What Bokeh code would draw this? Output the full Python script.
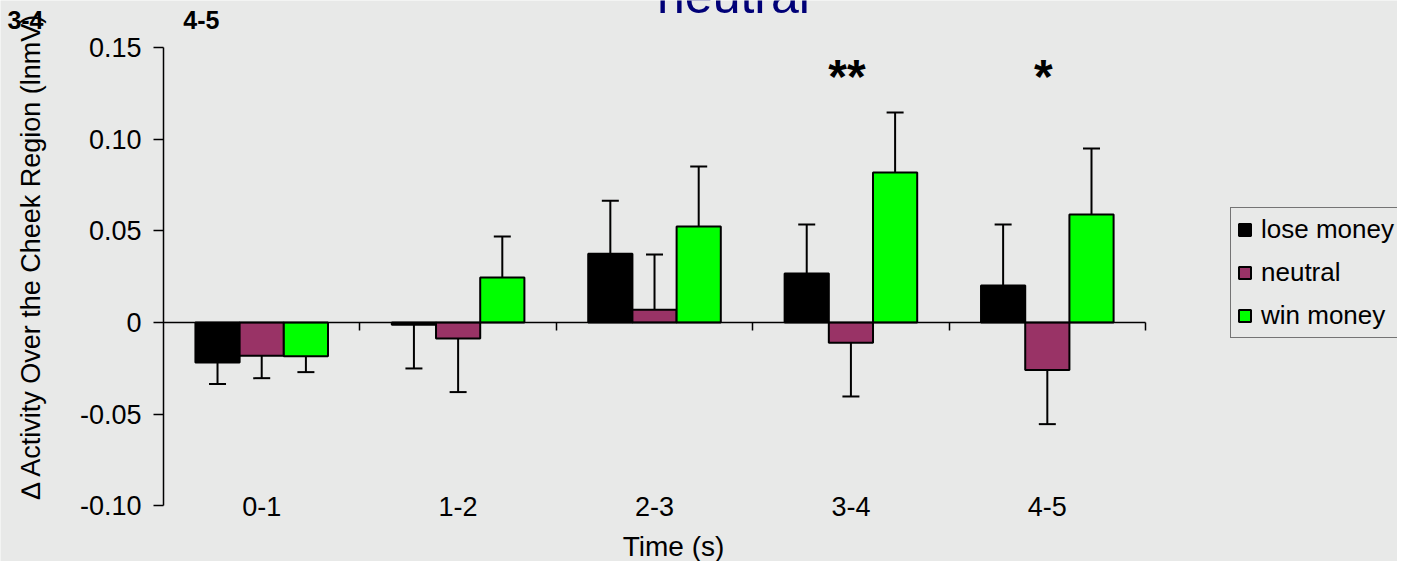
import math
from bokeh.plotting import figure
from bokeh.models import (ColumnDataSource, Whisker, TeeHead, LinearAxis, FixedTicker,
                          Range1d, Legend, LegendItem, Label)
from bokeh.embed import file_html
from bokeh.resources import INLINE
from bokeh.core.properties import value

# ---------------- data ----------------
categories = ["0-1", "1-2", "2-3", "3-4", "4-5"]
series_names = ["lose money", "neutral", "win money"]
lose_money = [-0.0218, -0.0013, 0.0375, 0.0267, 0.0202]
lose_money_err = [0.0118, 0.0238, 0.0289, 0.0268, 0.0333]
neutral = [-0.0182, -0.0087, 0.0069, -0.0110, -0.0260]
neutral_err = [0.0122, 0.0293, 0.0302, 0.0294, 0.0295]
win_money = [-0.0184, 0.0246, 0.0524, 0.0819, 0.0590]
win_money_err = [0.0087, 0.0224, 0.0328, 0.0327, 0.0360]
series_colors = ["#000000", "#993366", "#00ff00"]
y_tick_values = [-0.10, -0.05, 0, 0.05, 0.10, 0.15]
y_tick_labels = ["-0.10", "-0.05", "0", "0.05", "0.10", "0.15"]
significance = {"3-4": "**", "4-5": "*"}
title_text = "neutral"
x_title = "Time (s)"
y_title = "\u2206  Activity Over the Cheek Region (lnmV)"
stray_labels = ["3-4", "4-5"]

BG = "#e8e9e8"
FONT = "Liberation Sans"

W, H = 1397, 561
p = figure(width=W, height=H, output_backend="svg", toolbar_location=None, title=None,
           x_range=Range1d(-0.830, 6.283), y_range=Range1d(-0.1305, 0.1758),
           x_axis_location=None, y_axis_location=None,
           min_border_left=0, min_border_right=0, min_border_top=0, min_border_bottom=0)
p.background_fill_color = BG
p.border_fill_color = BG
p.outline_line_color = None
p.grid.visible = False

# y axis (drawn at x = 0)
ya = LinearAxis(fixed_location=0, bounds=(-0.10, 0.15), ticker=FixedTicker(ticks=y_tick_values))
ya.major_label_overrides = {v: l for v, l in zip(y_tick_values, y_tick_labels)}
ya.major_tick_out = 10
ya.major_tick_in = 0
ya.minor_tick_out = 0
ya.minor_tick_in = 0
ya.axis_line_width = 1.5
ya.major_tick_line_width = 1.5
ya.major_label_text_font = FONT
ya.major_label_text_font_size = "27px"
ya.major_label_text_color = "black"
ya.major_label_standoff = 12
p.add_layout(ya, "left")

# x axis (zero line with ticks at category boundaries)
xa = LinearAxis(fixed_location=0, bounds=(0, len(categories)),
                ticker=FixedTicker(ticks=list(range(1, len(categories) + 1))))
xa.major_tick_out = 8
xa.major_tick_in = 0
xa.minor_tick_out = 0
xa.minor_tick_in = 0
xa.axis_line_width = 1.5
xa.major_tick_line_width = 1.5
xa.major_label_text_font_size = "0px"
xa.major_label_text_alpha = 0
p.add_layout(xa, "below")

# bars + error bars
bar_w = 0.225
offsets = [-bar_w, 0.0, bar_w]
all_vals = [lose_money, neutral, win_money]
all_errs = [lose_money_err, neutral_err, win_money_err]
renderers = []
for vals, errs, col, off in zip(all_vals, all_errs, series_colors, offsets):
    xs = [i + 0.5 + off for i in range(len(categories))]
    src = ColumnDataSource(dict(x=xs, top=vals))
    r = p.vbar(x="x", top="top", bottom=0, width=bar_w, source=src,
               fill_color=col, line_color="black", line_width=2)
    renderers.append(r)
    pos = dict(base=[], lower=[], upper=[])
    neg = dict(base=[], lower=[], upper=[])
    for x, v, e in zip(xs, vals, errs):
        if v >= 0:
            pos["base"].append(x); pos["lower"].append(v); pos["upper"].append(v + e)
        else:
            neg["base"].append(x); neg["upper"].append(v); neg["lower"].append(v - e)
    if pos["base"]:
        p.add_layout(Whisker(source=ColumnDataSource(pos), base="base", lower="lower",
                             upper="upper", line_width=2, line_color="black",
                             upper_head=TeeHead(size=17, line_width=2, line_color="black"),
                             lower_head=None))
    if neg["base"]:
        p.add_layout(Whisker(source=ColumnDataSource(neg), base="base", lower="lower",
                             upper="upper", line_width=2, line_color="black",
                             lower_head=TeeHead(size=17, line_width=2, line_color="black"),
                             upper_head=None))

# category labels
p.text(x=[i + 0.5 for i in range(len(categories))], y=[-0.1004] * len(categories),
       text=categories, text_align="center", text_baseline="middle",
       text_font=value(FONT), text_font_size="27px", text_color="black")

# significance stars
sx = [categories.index(k) + 0.5 for k in significance]
p.text(x=sx, y=[0.1343] * len(sx), text=list(significance.values()),
       text_align="center", text_baseline="alphabetic", text_font=value(FONT),
       text_font_size="48px", text_font_style="bold", text_color="black", x_offset=-4)

# title (partly cut off at top, as in the original)
p.add_layout(Label(x=2.902, y=0.1785, text=title_text, text_align="center",
                   text_baseline="alphabetic", text_font=FONT, text_font_size="50px",
                   text_color="#000077"))

# stray bold labels at top-left
p.add_layout(Label(x=-0.703, y=0.1654, text=stray_labels[0], text_align="center",
                   text_baseline="middle", text_font=FONT, text_font_size="25px",
                   text_font_style="bold", text_color="black"))
p.add_layout(Label(x=0.193, y=0.1650, text=stray_labels[1], text_align="center",
                   text_baseline="middle", text_font=FONT, text_font_size="25px",
                   text_font_style="bold", text_color="black"))

# axis titles
p.add_layout(Label(x=2.597, y=-0.1223, text=x_title, text_align="center",
                   text_baseline="middle", text_font=FONT, text_font_size="28px",
                   text_color="black"))
p.add_layout(Label(x=-0.677, y=0.0382, text=y_title, angle=math.pi / 2,
                   text_align="center", text_baseline="middle", text_font=FONT,
                   text_font_size="27px", text_color="black"))

# legend
legend = Legend(items=[LegendItem(label=n, renderers=[r]) for n, r in zip(series_names, renderers)],
                location=(1230, 223), orientation="vertical")
legend.label_text_font = FONT
legend.label_text_font_size = "26px"
legend.label_text_color = "black"
legend.glyph_width = 15
legend.glyph_height = 15
legend.label_standoff = 9
legend.padding = 6
legend.spacing = 12
legend.margin = 0
legend.border_line_color = "black"
legend.border_line_width = 1
legend.background_fill_color = BG
legend.background_fill_alpha = 1
p.add_layout(legend)

open("out.html", "w").write(file_html(p, INLINE))
